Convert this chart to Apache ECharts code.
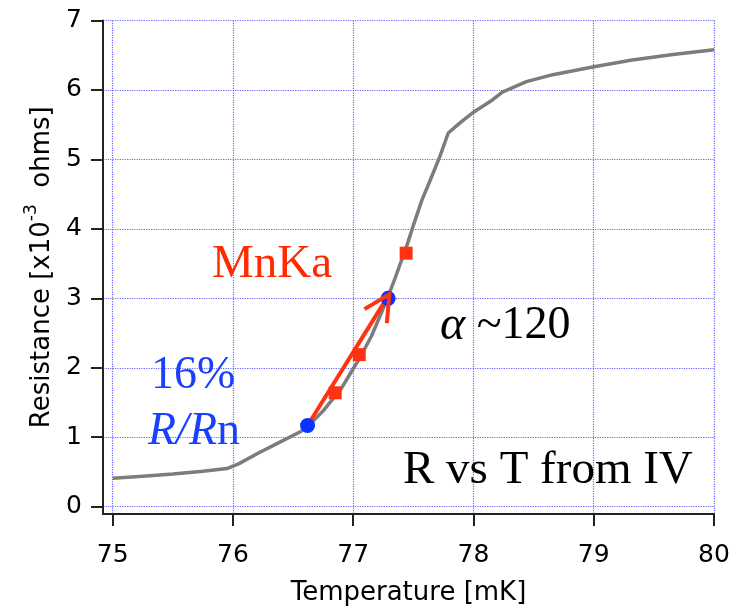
<!DOCTYPE html>
<html>
<head>
<meta charset="utf-8">
<script src="https://cdn.jsdelivr.net/npm/echarts@6/dist/echarts.min.js"></script>
<style>
  html, body { margin: 0; padding: 0; background: #fff; }
  #chart { width: 744px; height: 606px; }
</style>
</head>
<body>
<div id="chart"></div>
<script>
// Resistance vs temperature transition curve (from IV sweeps)
const temperature = [75.0, 75.25, 75.5, 75.75, 75.95, 76.05, 76.22, 76.39, 76.56, 76.62,
  76.75, 76.9, 77.05, 77.15, 77.28, 77.35, 77.45, 77.5, 77.57, 77.64, 77.72, 77.79,
  77.89, 78.0, 78.16, 78.24, 78.44, 78.66, 78.99, 79.32, 79.66, 80.0];
const resistance = [0.41, 0.44, 0.47, 0.51, 0.55, 0.62, 0.78, 0.93, 1.08, 1.15,
  1.38, 1.70, 2.13, 2.45, 2.98, 3.30, 3.78, 4.05, 4.41, 4.70, 5.04, 5.38,
  5.53, 5.68, 5.86, 5.97, 6.12, 6.22, 6.33, 6.43, 6.51, 6.58];

// Bias points (blue) and MnKa pulse heights (red)
const biasT = [76.62, 77.29];
const biasR = [1.17, 3.0];
const mnkaT = [76.85, 77.05, 77.44];
const mnkaR = [1.64, 2.19, 3.65];

// Arrow from low bias point up the transition
const arrowT = [76.62, 77.30];
const arrowR = [1.17, 3.06];

const xTicks = [75, 76, 77, 78, 79, 80];
const yTicks = [0, 1, 2, 3, 4, 5, 6, 7];

const curve = temperature.map((t, i) => [t, resistance[i]]);
const bias = biasT.map((t, i) => [t, biasR[i]]);
const mnka = mnkaT.map((t, i) => [t, mnkaR[i]]);
const arrow = arrowT.map((t, i) => [t, arrowR[i]]);

const RED = '#ff3311';
const BLUE = '#0a33ff';
const gridLine = { show: true, lineStyle: { color: '#6464ff', width: 1.2, type: [1.2, 1.2] } };
const sans = 'DejaVu Sans';
const serif = 'Liberation Serif';

const chart = echarts.init(document.getElementById('chart'));
chart.setOption({
  animation: false,
  backgroundColor: '#ffffff',
  grid: { left: 103, right: 30, top: 20.5, bottom: 92, containLabel: false, outerBoundsMode: 'none' },
  xAxis: {
    type: 'value', min: 74.919, max: 80,
    name: 'Temperature [mK]', nameLocation: 'middle', nameGap: 66,
    nameTextStyle: { fontFamily: sans, fontSize: 26, color: '#000' },
    axisLine: { show: true, onZero: false, lineStyle: { color: '#222', width: 2 } },
    axisTick: { show: true, inside: false, length: 12, customValues: xTicks, lineStyle: { color: '#222', width: 2 } },
    axisLabel: { customValues: xTicks, margin: 29, fontFamily: sans, fontSize: 25, color: '#000',
      formatter: v => String(Math.round(v)) },
    splitLine: gridLine
  },
  yAxis: {
    type: 'value', min: -0.105, max: 7,
    name: '{a|Resistance [x10}{s|-3}{a|  ohms]}', nameLocation: 'middle', nameGap: 38, nameRotate: 90,
    nameTextStyle: {
      rich: {
        a: { fontFamily: sans, fontSize: 26, color: '#000' },
        s: { fontFamily: sans, fontSize: 17, color: '#000', verticalAlign: 'bottom', padding: [0, 0, 22, 0] }
      }
    },
    axisLine: { show: true, onZero: false, lineStyle: { color: '#222', width: 2 } },
    axisTick: { show: true, inside: false, length: 12, customValues: yTicks, lineStyle: { color: '#222', width: 2 } },
    axisLabel: { customValues: yTicks, margin: 21, fontFamily: sans, fontSize: 25, color: '#000',
      formatter: v => String(Math.round(v)) },
    splitLine: gridLine
  },
  series: [
    {
      type: 'line', data: curve, showSymbol: false, symbol: 'none', z: 2,
      lineStyle: { color: '#7c7c7c', width: 3.5 }
    },
    {
      type: 'line', data: arrow, showSymbol: false, symbol: 'none', z: 3,
      lineStyle: { color: RED, width: 4 }
    },
    {
      type: 'scatter', data: bias, symbol: 'circle', symbolSize: 15, z: 4,
      itemStyle: { color: BLUE, opacity: 1 }
    },
    {
      type: 'scatter', data: mnka, symbol: 'rect', symbolSize: 13, z: 5,
      itemStyle: { color: RED, opacity: 1 }
    },
    {
      // open arrowhead at the upper end of the arrow
      type: 'custom', z: 6, data: [arrow[1]],
      renderItem: function (params, api) {
        const tip = api.coord(arrow[1]);
        const tail = api.coord(arrow[0]);
        const ang = Math.atan2(tail[1] - tip[1], tail[0] - tip[0]);
        const len = 29, spread = 27 * Math.PI / 180;
        const p1 = [tip[0] + len * Math.cos(ang + spread), tip[1] + len * Math.sin(ang + spread)];
        const p2 = [tip[0] + len * Math.cos(ang - spread), tip[1] + len * Math.sin(ang - spread)];
        return {
          type: 'polyline',
          shape: { points: [p1, tip, p2] },
          style: { stroke: RED, lineWidth: 4, fill: null, lineJoin: 'miter' }
        };
      }
    }
  ],
  graphic: [
    { type: 'text', left: 212, top: 241, z: 10,
      style: { text: 'MnKa', fontFamily: serif, fontSize: 47, fill: '#ff2a00' } },
    { type: 'text', left: 151, top: 353, z: 10,
      style: { text: '16%', fontFamily: serif, fontSize: 46, fill: '#1a40ff' } },
    { type: 'text', left: 148, top: 409, z: 10,
      style: { text: '{i|R/R}{n|n}', fill: '#1a40ff',
        rich: { i: { fontFamily: serif, fontSize: 46, fontStyle: 'italic', fill: '#1a40ff' },
                n: { fontFamily: serif, fontSize: 46, fill: '#1a40ff' } } } },
    { type: 'text', left: 440, top: 302, z: 10,
      style: { text: '{i|α}{n| ~120}', fill: '#000',
        rich: { i: { fontFamily: serif, fontSize: 48, fontStyle: 'italic', fill: '#000' },
                n: { fontFamily: serif, fontSize: 46, fill: '#000' } } } },
    { type: 'text', left: 403, top: 447, z: 10,
      style: { text: 'R vs T from IV', fontFamily: serif, fontSize: 47, fill: '#000' } }
  ]
});
</script>
</body>
</html>
